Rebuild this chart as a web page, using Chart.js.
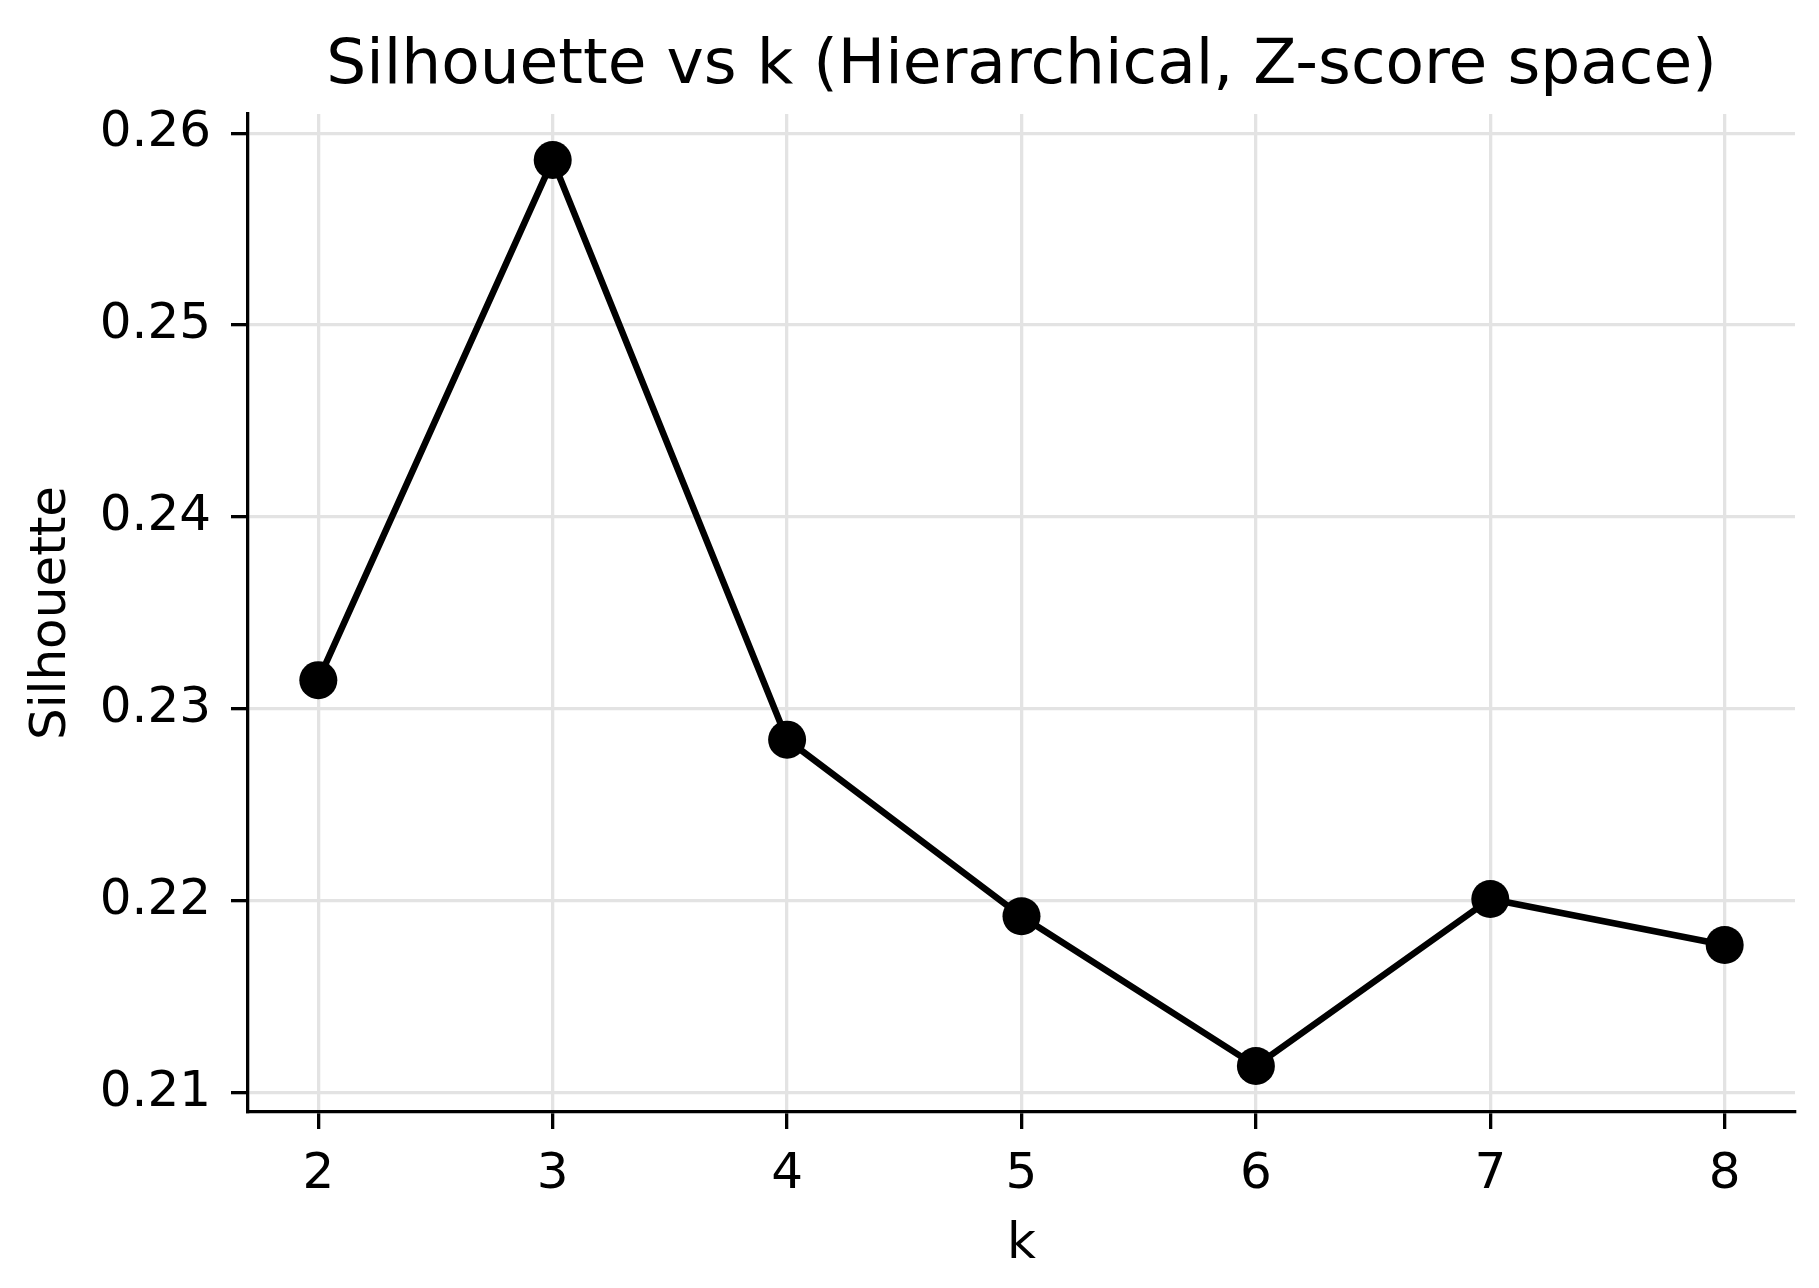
<!DOCTYPE html>
<html>
<head>
<meta charset="utf-8">
<script src="https://cdn.jsdelivr.net/npm/chart.js@4.4.1/dist/chart.umd.min.js"></script>
<style>
  html, body { margin: 0; padding: 0; background: #fff; }
</style>
</head>
<body>
<canvas id="chart" width="1819" height="1288"></canvas>
<script>
// values
const ks = [2, 3, 4, 5, 6, 7, 8];
const silhouette = [0.2315, 0.2586, 0.2284, 0.2192, 0.2114, 0.2201, 0.2177];
const xTicks = [2, 3, 4, 5, 6, 7, 8];
const yTicks = [0.21, 0.22, 0.23, 0.24, 0.25, 0.26];

const titleText = 'Silhouette vs k (Hierarchical, Z-score space)';
const fontFamily = "'DejaVu Sans', sans-serif";
const gridColor = '#e3e3e3';

Chart.defaults.font.family = fontFamily;
Chart.defaults.color = '#000';

const ctx = document.getElementById('chart').getContext('2d');

const chart = new Chart(ctx, {
    type: 'line',
    data: {
        datasets: [{
            label: 'Silhouette',
            data: ks.map((k, i) => ({ x: k, y: silhouette[i] })),
            borderColor: '#000',
            backgroundColor: '#000',
            borderWidth: 6.5,
            pointRadius: 19,
            pointHoverRadius: 19,
            pointBackgroundColor: '#000',
            pointBorderWidth: 0,
            tension: 0,
            fill: false,
            clip: false
        }]
    },
    options: {
        responsive: false,
        animation: false,
        devicePixelRatio: 1,
        layout: { padding: { left: 0, right: 24, top: 0, bottom: 0 } },
        plugins: {
            legend: { display: false },
            tooltip: { enabled: false },
            title: { display: false }
        },
        scales: {
            x: {
                type: 'linear',
                position: 'bottom',
                min: 1.7,
                max: 8.3,
                afterBuildTicks: scale => { scale.ticks = xTicks.map(v => ({ value: v })); },
                afterFit: scale => { scale.height = 176; },
                ticks: {
                    font: { size: 50 },
                    color: '#000',
                    padding: 16,
                    maxRotation: 0,
                    callback: v => String(v)
                },
                grid: {
                    color: gridColor,
                    lineWidth: 3.3,
                    tickColor: '#000',
                    tickWidth: 3.3,
                    tickLength: 17
                },
                border: { display: true, color: '#000', width: 3.3 },
                title: {
                    display: true,
                    text: 'k',
                    font: { size: 50 },
                    color: '#000',
                    padding: { top: 0, bottom: 13 }
                }
            },
            // top axis only carries the chart title so it centres over the plot
            xTop: {
                type: 'linear',
                position: 'top',
                min: 0,
                max: 1,
                afterFit: scale => { scale.height = 114; },
                ticks: { display: false },
                grid: { display: false, drawTicks: false },
                border: { display: false },
                title: {
                    display: true,
                    text: titleText,
                    font: { size: 63 },
                    color: '#000',
                    padding: { top: 29, bottom: 0 }
                }
            },
            y: {
                type: 'linear',
                position: 'left',
                min: 0.2090,
                max: 0.2610,
                afterBuildTicks: scale => { scale.ticks = yTicks.map(v => ({ value: v })); },
                afterFit: scale => { scale.width = 248; },
                ticks: {
                    font: { size: 50 },
                    color: '#000',
                    padding: 20,
                    callback: v => v.toFixed(2)
                },
                grid: {
                    color: gridColor,
                    lineWidth: 3.3,
                    tickColor: '#000',
                    tickWidth: 3.3,
                    tickLength: 17
                },
                border: { display: true, color: '#000', width: 3.3 },
                title: {
                    display: true,
                    text: 'Silhouette',
                    font: { size: 50 },
                    color: '#000',
                    padding: { top: 22, bottom: 0 }
                }
            }
        }
    }
});
</script>
</body>
</html>
